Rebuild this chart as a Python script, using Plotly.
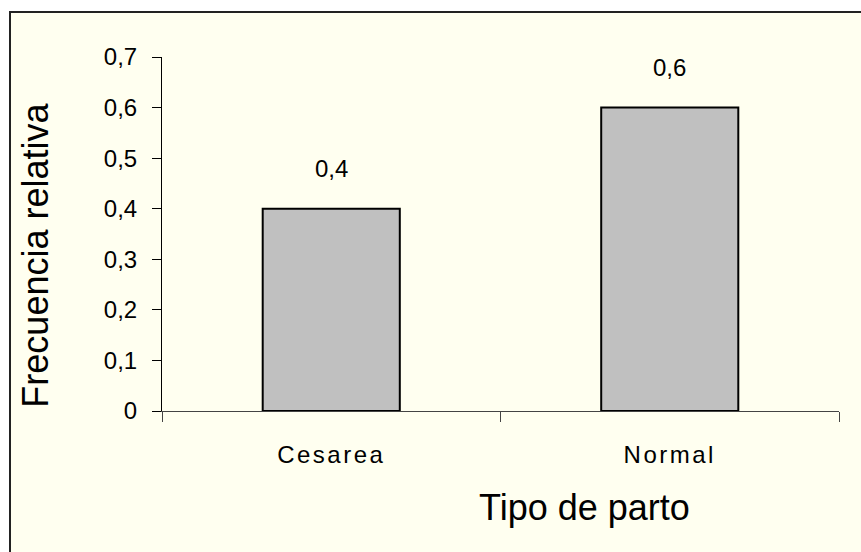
import plotly.graph_objects as go

# data
categories = ["Cesarea", "Normal"]
frecuencia = [0.4, 0.6]
etiquetas = ["0,4", "0,6"]

FONT = "Arial, Liberation Sans, sans-serif"
IVORY = "#FFFFF0"

fig = go.Figure(data=[go.Bar(x=categories, y=frecuencia, width=0.405,
                             marker=dict(color="#C0C0C0", line=dict(color="black", width=2)),
                             hoverinfo="skip")])

# value labels above the bars
for c, v, t in zip(categories, frecuencia, etiquetas):
    fig.add_annotation(x=c, y=v, text=t, showarrow=False, yanchor="bottom", yshift=25,
                       font=dict(family=FONT, size=24, color="black"))

# axis titles (placed like the original)
fig.add_annotation(x=0.6245, y=-0.272, xref="paper", yref="paper", text="Tipo de parto",
                   showarrow=False, xanchor="center", yanchor="middle",
                   font=dict(family=FONT, size=36, color="black"))
fig.add_annotation(x=-0.187, y=0.44, xref="paper", yref="paper", text="Frecuencia relativa",
                   showarrow=False, textangle=-90, xanchor="center", yanchor="middle",
                   font=dict(family=FONT, size=36, color="black"))

# chart area frame
fig.add_shape(type="rect", xref="paper", yref="paper", layer="below",
              x0=(10 - 162) / 677, x1=(880 - 162) / 677,
              y0=(411 - 570) / 354, y1=(411 - 12) / 354,
              fillcolor=IVORY, line=dict(color="#222222", width=2))

fig.update_layout(
    width=861, height=552,
    margin=dict(l=162, r=22, t=57, b=141),
    paper_bgcolor="white",
    plot_bgcolor="rgba(0,0,0,0)",
    separators=", ",
    showlegend=False,
    font=dict(family=FONT, color="black"),
)
fig.update_xaxes(type="category", showline=True, linecolor="#444444", linewidth=1,
                 ticks="outside", tickson="boundaries", ticklen=10, tickcolor="#444444",
                 showgrid=False, tickfont=dict(family=FONT, size=24),
                 ticklabelstandoff=22)
fig.update_yaxes(range=[0, 0.7], dtick=0.1, tickformat=".1~f", showline=True,
                 linecolor="black", linewidth=1, ticks="outside", ticklen=9,
                 tickcolor="black", showgrid=False, zeroline=False,
                 tickfont=dict(family=FONT, size=24), ticklabelstandoff=10)

# no page margin, and the wide letter spacing of the category labels
js = ("document.body.style.margin='0';"
      "document.querySelectorAll('.xtick text').forEach(function(t){t.style.letterSpacing='2.5px';});")
fig.write_html("out.html", post_script=js, config={"displayModeBar": False})
